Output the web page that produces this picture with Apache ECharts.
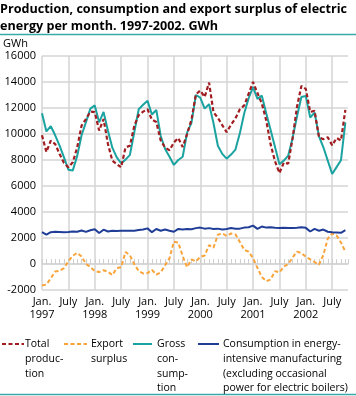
<!DOCTYPE html>
<html><head><meta charset="utf-8">
<script src="https://cdn.jsdelivr.net/npm/echarts@6/dist/echarts.min.js"></script>
<style>html,body{margin:0;padding:0;background:#fff}#c{width:356px;height:396px}</style>
</head><body><div id="c"></div>
<script>
// Months: index 0 = Jan 1997 ... index 69 = Oct 2002
const startYear = 1997;
const monthCount = 70;
const yTicks = [-2000, 0, 2000, 4000, 6000, 8000, 10000, 12000, 14000, 16000];
const janLabel = 'Jan.';
const julyLabel = 'July';

const totalProduction = [
  9900, 8620, 9490, 9230, 8460, 7770, 7440, 7820, 8970, 10640, 11150, 11720,
  11680, 10260, 11150, 9230, 7950, 7690, 7440, 8970, 9100, 10640, 11460, 11720,
  11900, 11100, 10920, 9500, 8950, 8750, 9350, 9690, 9000, 10000, 11100, 13050,
  13340, 12850, 13950, 11680, 11250, 10680, 10140, 10720, 11200, 11900, 12200, 13100,
  14000, 13150, 12350, 11050, 9200, 7900, 7000, 7800, 7720, 9680, 12100, 13700,
  13470, 11700, 11780, 9750, 9600, 9750, 9130, 9690, 9500, 11850
];
const exportSurplus = [
  -1650, -1580, -1100, -580, -520, -320, 220, 630, 860, 580, 0, -220,
  -550, -620, -480, -600, -850, -320, -250, 930, 660, -20, -550, -730,
  -700, -450, -820, -640, -100, 450, 1720, 1650, 600, -250, 350, 200,
  550, 650, 1450, 1250, 2250, 2350, 2150, 2350, 2280, 1700, 1080, 950,
  450, -300, -1000, -1320, -1200, -550, -650, -200, 0, 500, 950, 850,
  550, 350, 150, -50, 700, 1950, 2350, 2200, 1650, 950
];
const grossConsumption = [
  11600, 10200, 10600, 9900, 9100, 8200, 7250, 7200, 8300, 9900, 10900, 11950,
  12200, 10900, 11700, 10250, 8950, 8200, 7750, 8030, 8400, 10150, 11900, 12250,
  12550, 11500, 11850, 9850, 8850, 8250, 7620, 8000, 8250, 10100, 10850, 13000,
  12800, 11950, 12300, 10850, 9100, 8470, 8100, 8420, 8800, 10050, 11600, 12750,
  13600, 12700, 12950, 11600, 10300, 9000, 7680, 7950, 8330, 9700, 11350, 12850,
  12930, 11270, 11650, 9820, 8980, 7950, 6920, 7450, 7980, 10900
];
const energyIntensive = [
  2450, 2260, 2450, 2480, 2470, 2450, 2460, 2500, 2480, 2580, 2470, 2600,
  2680, 2380, 2640, 2500, 2560, 2540, 2550, 2560, 2560, 2560, 2620, 2650,
  2740, 2450, 2690, 2560, 2660, 2560, 2480, 2700, 2660, 2700, 2680, 2760,
  2800, 2720, 2760, 2700, 2720, 2660, 2700, 2770, 2720, 2720, 2800, 2830,
  2950, 2700, 2880, 2800, 2820, 2780, 2760, 2780, 2760, 2760, 2780, 2820,
  2780, 2500, 2700, 2560, 2650, 2480, 2450, 2430, 2400, 2600
];

const seriesNames = ['Total\nproduc-\ntion', 'Export\nsurplus', 'Gross\ncon-\nsump-\ntion',
  'Consumption in energy-\nintensive manufacturing\n(excluding occasional\npower for electric boilers)'];

const C_RED = '#a11d21', C_ORANGE = '#f8a43a', C_TEAL = '#1aa3a0', C_NAVY = '#1f3d97';
const FONT = '"Open Sans", sans-serif';
const GRID_C = '#d5d5d5';

function pairs(arr) { return arr.map((v, i) => [i, v]); }

const chart = echarts.init(document.getElementById('c'), null, {renderer: 'canvas'});

const legendItems = [
  {x: 2, w: 22, tx: 25, color: C_RED, dash: [4, 2.5], name: seriesNames[0]},
  {x: 64, w: 23, tx: 91, color: C_ORANGE, dash: [4, 2.5], name: seriesNames[1]},
  {x: 133, w: 19, tx: 157, color: C_TEAL, dash: null, name: seriesNames[2]},
  {x: 198, w: 21, tx: 223, color: C_NAVY, dash: null, name: seriesNames[3]}
];
const graphics = [
  {type: 'line', shape: {x1: 0, y1: 34.5, x2: 356, y2: 34.5}, style: {stroke: '#3aa9a6', lineWidth: 1.5}},
  {type: 'line', shape: {x1: 0, y1: 394.5, x2: 356, y2: 394.5}, style: {stroke: '#3aa9a6', lineWidth: 1.5}},
  {type: 'text', left: 3, top: 38, style: {text: 'GWh', font: '11px ' + FONT, fill: '#000'}}
];
legendItems.forEach(it => {
  graphics.push({type: 'line', shape: {x1: it.x, y1: 344, x2: it.x + it.w, y2: 344},
    style: {stroke: it.color, lineWidth: 2, lineDash: it.dash}});
  graphics.push({type: 'text', left: it.tx, top: 337,
    style: {text: it.name, font: '10.5px ' + FONT, fill: '#000', lineHeight: 14.7}});
});

chart.setOption({
  animation: false,
  title: {
    text: 'Production, consumption and export surplus of electric\nenergy per month. 1997-2002. GWh',
    left: 0, top: 1, padding: 0,
    textStyle: {fontFamily: FONT, fontWeight: 'bold', fontSize: 12.6, lineHeight: 16.7, color: '#000'}
  },
  grid: {left: 42, right: 8, top: 56, bottom: 106, containLabel: false},
  xAxis: [
    {
      type: 'value', min: 0, max: 69.6, interval: 6, position: 'bottom',
      axisLine: {show: false, onZero: false}, axisTick: {show: false},
      splitLine: {show: true, showMaxLine: false, lineStyle: {color: GRID_C, width: 1.5}},
      axisLabel: {
        margin: 5, color: '#000', fontFamily: FONT, fontSize: 11, lineHeight: 13,
        showMaxLabel: false,
        formatter: v => {
          const m = Math.round(v);
          if (m % 12 === 0) return janLabel + '\n' + (startYear + m / 12);
          if (m % 12 === 6) return julyLabel;
          return '';
        }
      }
    },
    {
      type: 'value', min: 0, max: 69.6, interval: 1, position: 'bottom',
      axisLine: {show: true, onZero: true, lineStyle: {color: GRID_C, width: 1.5}},
      axisTick: {show: true, inside: true, length: 5, lineStyle: {color: '#cfcfcf', width: 1}},
      axisLabel: {show: false}, splitLine: {show: false}
    }
  ],
  yAxis: {
    type: 'value', min: yTicks[0], max: yTicks[yTicks.length - 1], interval: 2000,
    axisLine: {show: false}, axisTick: {show: false},
    splitLine: {show: true, lineStyle: {color: GRID_C, width: 1.5}},
    axisLabel: {color: '#000', fontFamily: FONT, fontSize: 11, margin: 6, formatter: v => String(v)}
  },
  series: [
    {name: seriesNames[2], type: 'line', data: pairs(grossConsumption), symbol: 'none',
     lineStyle: {color: C_TEAL, width: 2}, z: 2},
    {name: seriesNames[0], type: 'line', data: pairs(totalProduction), symbol: 'none',
     lineStyle: {color: C_RED, width: 2.2, type: [4, 2.5]}, z: 3},
    {name: seriesNames[1], type: 'line', data: pairs(exportSurplus), symbol: 'none',
     lineStyle: {color: C_ORANGE, width: 2, type: [4, 2.5]}, z: 3},
    {name: seriesNames[3], type: 'line', data: pairs(energyIntensive), symbol: 'none',
     lineStyle: {color: C_NAVY, width: 2}, z: 3}
  ],
  graphic: graphics
});
</script></body></html>
